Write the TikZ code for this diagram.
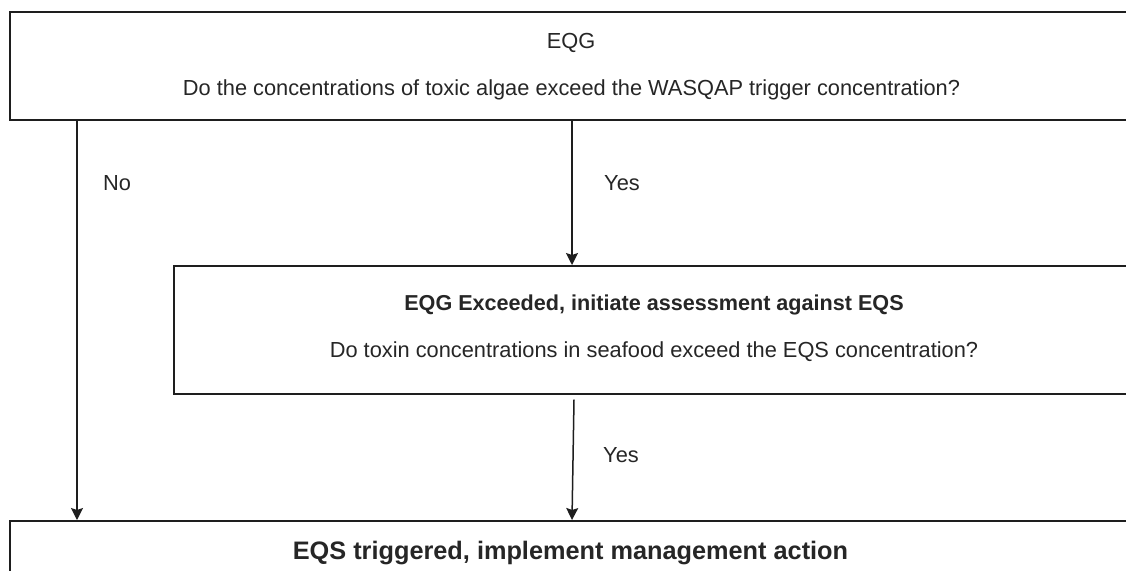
\documentclass[tikz,border=0pt]{standalone}
\usepackage{fontspec}
\setmainfont{Liberation Sans}
\usetikzlibrary{arrows.meta}
\definecolor{ink}{HTML}{1E1E1E}
\definecolor{txt}{HTML}{262626}
\tikzset{
  box/.style={draw=ink, line width=1.5pt, fill=white, anchor=north west, inner sep=0pt},
  body/.style={text=txt, font=\fontsize{21.8}{24}\selectfont, inner sep=0pt},
  head/.style={text=txt, font=\fontsize{21.6}{24}\selectfont\bfseries, inner sep=0pt},
  final/.style={text=txt, font=\fontsize{25.3}{28}\selectfont\bfseries, inner sep=0pt},
  lbl/.style={text=txt, font=\fontsize{21.8}{24}\selectfont, inner sep=0pt},
  flow/.style={draw=ink, line width=1.5pt, -{Stealth[length=12pt, width=12pt, inset=2pt]}}
}
\begin{document}
\begin{tikzpicture}[x=1pt, y=-1pt]
\useasboundingbox (0,0) rectangle (1126,570);
\clip (0,0) rectangle (1126,570);
\fill[white] (0,0) rectangle (1126,570);

% boxes (right and lower edges run past the frame)
\node[box, minimum width=1124pt, minimum height=108pt] (guide) at (9,11) {};
\node[box, minimum width=960pt, minimum height=128pt] (assess) at (173,265) {};
\node[box, minimum width=1124pt, minimum height=70pt] (action) at (9,520) {};

% box texts
\node[body] (guideT) at (571,43) {EQG};
\node[body] (guideQ) at (571.5,90) {Do the concentrations of toxic algae exceed the WASQAP trigger concentration?};
\node[head] (assessT) at (654,305) {EQG Exceeded, initiate assessment against EQS};
\node[body] (assessQ) at (654,352) {Do toxin concentrations in seafood exceed the EQS concentration?};
\node[final] (actionT) at (570.5,553) {EQS triggered, implement management action};

% connector end points
\coordinate (noStart) at (guide.south -| 77,0);
\coordinate (noEnd) at (action.north -| 77,0);
\coordinate (yesStart) at (guide.south -| 572,0);
\coordinate (yesEnd) at (assess.north -| 572,0);
\coordinate (yes2Start) at ([yshift=-5pt]assess.south -| 574,0);
\coordinate (yes2End) at (action.north -| 572,0);

\draw[flow] (noStart) -- (noEnd);
\draw[flow] (yesStart) -- (yesEnd);
\draw[flow] (yes2Start) -- (yes2End);

% branch labels
\node[lbl] (noL) at (117,183) {No};
\node[lbl] (yesL) at (622,183) {Yes};
\node[lbl] (yes2L) at (621,455) {Yes};
\end{tikzpicture}
\end{document}
